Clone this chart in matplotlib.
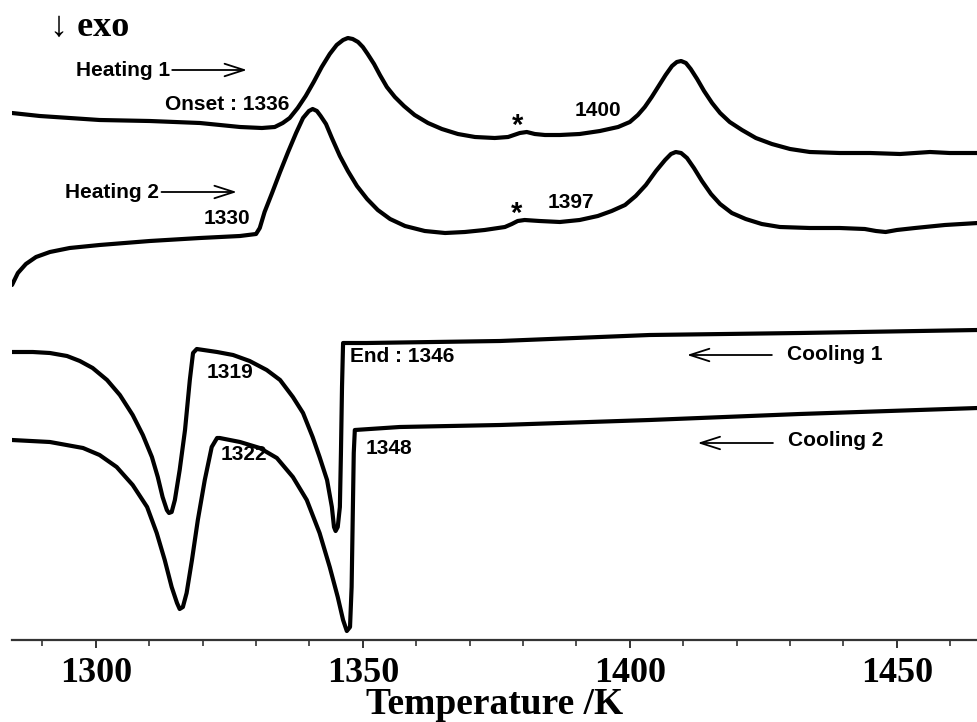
import matplotlib
matplotlib.use("Agg")
import matplotlib.pyplot as plt
from matplotlib.ticker import MultipleLocator

# ---- data (temperature in K, DSC signal in arbitrary units) ----
heat1_T = [1284.3, 1289.5, 1295.1, 1300.7, 1310.1, 1319.5, 1327.0, 1331.1, 1333.5, 1335.0,
           1336.3, 1337.8, 1339.3, 1340.8, 1342.3, 1343.8, 1345.1, 1346.3, 1347.2, 1348.1,
           1349.1, 1350.0, 1350.9, 1352.1, 1353.2, 1354.5, 1356.0, 1357.7, 1359.7, 1362.2,
           1364.8, 1367.8, 1371.0, 1374.7, 1377.2, 1378.3, 1379.4, 1380.7, 1382.2, 1384.1,
           1386.9, 1390.6, 1394.4, 1397.8, 1400.0, 1401.5, 1402.8, 1404.1, 1405.4, 1406.7,
           1407.9, 1408.8, 1409.6, 1410.5, 1411.4, 1412.6, 1413.9, 1415.4, 1416.9, 1418.7,
           1421.0, 1423.6, 1426.6, 1430.0, 1433.7, 1439.3, 1445.0, 1450.6, 1456.2, 1459.9, 1465.2]
heat1_S = [52.7, 52.4, 52.2, 52.0, 51.9, 51.7, 51.3, 51.2, 51.3, 51.7,
           52.2, 53.2, 54.4, 55.8, 57.3, 58.6, 59.5, 60.0, 60.2, 60.1,
           59.8, 59.3, 58.6, 57.6, 56.5, 55.3, 54.3, 53.4, 52.5, 51.7,
           51.1, 50.6, 50.3, 50.2, 50.3, 50.5, 50.7, 50.8, 50.6, 50.5,
           50.5, 50.6, 50.9, 51.3, 51.8, 52.5, 53.3, 54.3, 55.4, 56.5,
           57.4, 57.8, 57.9, 57.7, 57.1, 56.1, 54.9, 53.7, 52.7, 51.8,
           51.0, 50.2, 49.6, 49.1, 48.8, 48.7, 48.7, 48.6, 48.8, 48.7, 48.7]

heat2_T = [1284.3, 1285.4, 1286.9, 1288.8, 1291.4, 1295.1, 1300.7, 1310.1, 1319.5, 1327.0,
           1330.0, 1330.7, 1331.6, 1333.0, 1334.5, 1336.0, 1337.5, 1338.8, 1339.9, 1340.6,
           1341.4, 1342.1, 1343.1, 1344.2, 1345.7, 1347.2, 1348.9, 1350.8, 1352.8, 1355.1,
           1357.9, 1361.6, 1365.4, 1369.1, 1372.8, 1376.6, 1377.9, 1379.0, 1380.3, 1383.1,
           1386.9, 1390.6, 1394.0, 1396.6, 1399.1, 1401.1, 1403.0, 1404.9, 1406.6, 1407.7,
           1408.6, 1409.6, 1410.7, 1412.0, 1413.5, 1415.2, 1416.9, 1419.1, 1421.7, 1424.7,
           1428.1, 1433.7, 1439.3, 1444.0, 1446.1, 1447.9, 1450.0, 1453.4, 1459.0, 1465.2]
heat2_S = [35.5, 36.7, 37.6, 38.3, 38.8, 39.2, 39.5, 39.9, 40.2, 40.4,
           40.6, 41.2, 42.8, 44.7, 46.8, 48.8, 50.7, 52.2, 52.9, 53.1,
           52.9, 52.4, 51.6, 50.2, 48.4, 46.9, 45.4, 44.1, 43.0, 42.1,
           41.4, 40.9, 40.7, 40.8, 41.0, 41.3, 41.6, 41.9, 42.0, 41.9,
           41.8, 42.0, 42.4, 42.9, 43.5, 44.4, 45.5, 46.9, 48.0, 48.6,
           48.8, 48.7, 48.2, 47.2, 45.9, 44.6, 43.6, 42.7, 42.1, 41.6,
           41.3, 41.2, 41.2, 41.1, 40.9, 40.8, 41.0, 41.2, 41.5, 41.7]

cool1_T = [1284.3, 1288.2, 1291.4, 1294.6, 1297.0, 1299.4, 1302.1, 1304.5, 1306.9, 1308.8,
           1310.5, 1311.6, 1312.5, 1313.3, 1313.7, 1314.2, 1314.8, 1315.7, 1316.7, 1317.6,
           1318.2, 1318.9, 1322.7, 1325.7, 1328.8, 1332.0, 1334.5, 1336.9, 1338.8, 1340.6,
           1341.9, 1343.3, 1344.2, 1344.6, 1344.9, 1345.3, 1345.7, 1345.9, 1346.1, 1346.3,
           1350.7, 1375.7, 1403.7, 1431.8, 1465.2]
cool1_S = [28.8, 28.8, 28.7, 28.4, 27.9, 27.2, 26.0, 24.5, 22.5, 20.5,
           18.3, 16.3, 14.3, 13.0, 12.7, 12.8, 14.0, 17.0, 21.0, 26.0,
           28.7, 29.1, 28.8, 28.5, 27.9, 27.0, 26.0, 24.3, 22.7, 20.3,
           18.3, 16.0, 13.3, 11.3, 10.9, 11.3, 13.3, 18.7, 25.3, 29.7,
           29.7, 29.9, 30.5, 30.7, 31.0]

cool2_T = [1284.3, 1291.4, 1297.6, 1300.7, 1303.9, 1306.9, 1309.6, 1311.4, 1312.9, 1314.2,
           1315.2, 1315.7, 1316.3, 1317.0, 1318.0, 1319.1, 1320.4, 1321.7, 1322.7, 1323.2,
           1327.0, 1330.7, 1333.9, 1336.9, 1339.5, 1341.9, 1343.8, 1345.3, 1346.3, 1347.0,
           1347.6, 1347.9, 1348.1, 1348.3, 1348.5, 1356.9, 1375.7, 1403.7, 1431.8, 1465.2]
cool2_S = [20.0, 19.8, 19.2, 18.5, 17.3, 15.5, 13.3, 10.7, 8.0, 5.3,
           3.7, 3.1, 3.3, 4.7, 8.0, 12.0, 16.0, 19.3, 20.2, 20.2,
           19.8, 19.2, 18.2, 16.3, 14.0, 10.7, 7.3, 4.3, 2.0, 0.9,
           1.3, 5.3, 12.0, 18.7, 21.0, 21.3, 21.5, 22.0, 22.6, 23.2]

x_ticks = [1300, 1350, 1400, 1450]

# ---- figure ----
W, H = 978, 722
fig = plt.figure(figsize=(W / 100, H / 100), dpi=100)
ax = fig.add_axes([12 / W, (H - 640) / H, (W - 12) / W, 640 / H])

for T, S in [(heat1_T, heat1_S), (heat2_T, heat2_S), (cool1_T, cool1_S), (cool2_T, cool2_S)]:
    ax.plot(T, S, color="black", lw=3.0, solid_joinstyle="round", solid_capstyle="round")

ax.set_xlim(1284.3, 1465.2)
ax.set_ylim(0, 64)

for s in ["top", "right", "left"]:
    ax.spines[s].set_visible(False)
ax.spines["bottom"].set_color("#333333")
ax.spines["bottom"].set_linewidth(1.6)
ax.set_yticks([])
ax.set_xticks(x_ticks)
ax.xaxis.set_minor_locator(MultipleLocator(10))
ax.tick_params(axis="x", which="major", direction="out", length=6, width=1.4, color="#333333", pad=6)
ax.tick_params(axis="x", which="minor", direction="out", length=4, width=1.2, color="#333333")
serif = ["Liberation Serif", "DejaVu Serif"]
for lab in ax.get_xticklabels():
    lab.set_fontfamily(serif)
    lab.set_fontweight("bold")
    lab.set_fontsize(26)
ax.set_xlabel("Temperature /K", fontfamily=serif, fontweight="bold", fontsize=27, labelpad=-2)

fig.text(50 / W, 1 - 27 / H, "\u2193 exo", fontfamily=serif, fontweight="bold", fontsize=26,
         ha="left", va="center")

sans = dict(fontfamily=["Liberation Sans", "DejaVu Sans"], fontweight="bold", fontsize=15, color="black")
star = dict(fontfamily=["Liberation Sans", "DejaVu Sans"], fontweight="bold", fontsize=21, color="black")
arrow = dict(arrowstyle="->,head_length=1.4,head_width=0.45", lw=1.3, color="black", shrinkA=0, shrinkB=0)

ax.text(1313.9, 57.0, "Heating 1", ha="right", va="center", **sans)
ax.annotate("", xy=(1328.3, 57.0), xytext=(1314.3, 57.0), arrowprops=arrow)
ax.text(1336.3, 53.5, "Onset : 1336", ha="right", va="center", **sans)
ax.text(1311.8, 44.8, "Heating 2", ha="right", va="center", **sans)
ax.annotate("", xy=(1326.4, 44.8), xytext=(1312.3, 44.8), arrowprops=arrow)
ax.text(1329.0, 42.1, "1330", ha="right", va="center", **sans)
ax.text(1379.0, 50.6, "*", ha="center", va="baseline", **star)
ax.text(1398.3, 53.0, "1400", ha="right", va="center", **sans)
ax.text(1378.8, 41.8, "*", ha="center", va="baseline", **star)
ax.text(1384.6, 43.8, "1397", ha="left", va="center", **sans)
ax.text(1320.8, 26.8, "1319", ha="left", va="center", **sans)
ax.text(1347.6, 28.4, "End : 1346", ha="left", va="center", **sans)
ax.text(1323.4, 18.6, "1322", ha="left", va="center", **sans)
ax.text(1350.6, 19.2, "1348", ha="left", va="center", **sans)
ax.text(1429.4, 28.5, "Cooling 1", ha="left", va="center", **sans)
ax.annotate("", xy=(1410.7, 28.5), xytext=(1426.6, 28.5), arrowprops=arrow)
ax.text(1429.6, 20.0, "Cooling 2", ha="left", va="center", **sans)
ax.annotate("", xy=(1412.7, 19.7), xytext=(1426.8, 19.7), arrowprops=arrow)

fig.savefig("out.png", dpi=100)
